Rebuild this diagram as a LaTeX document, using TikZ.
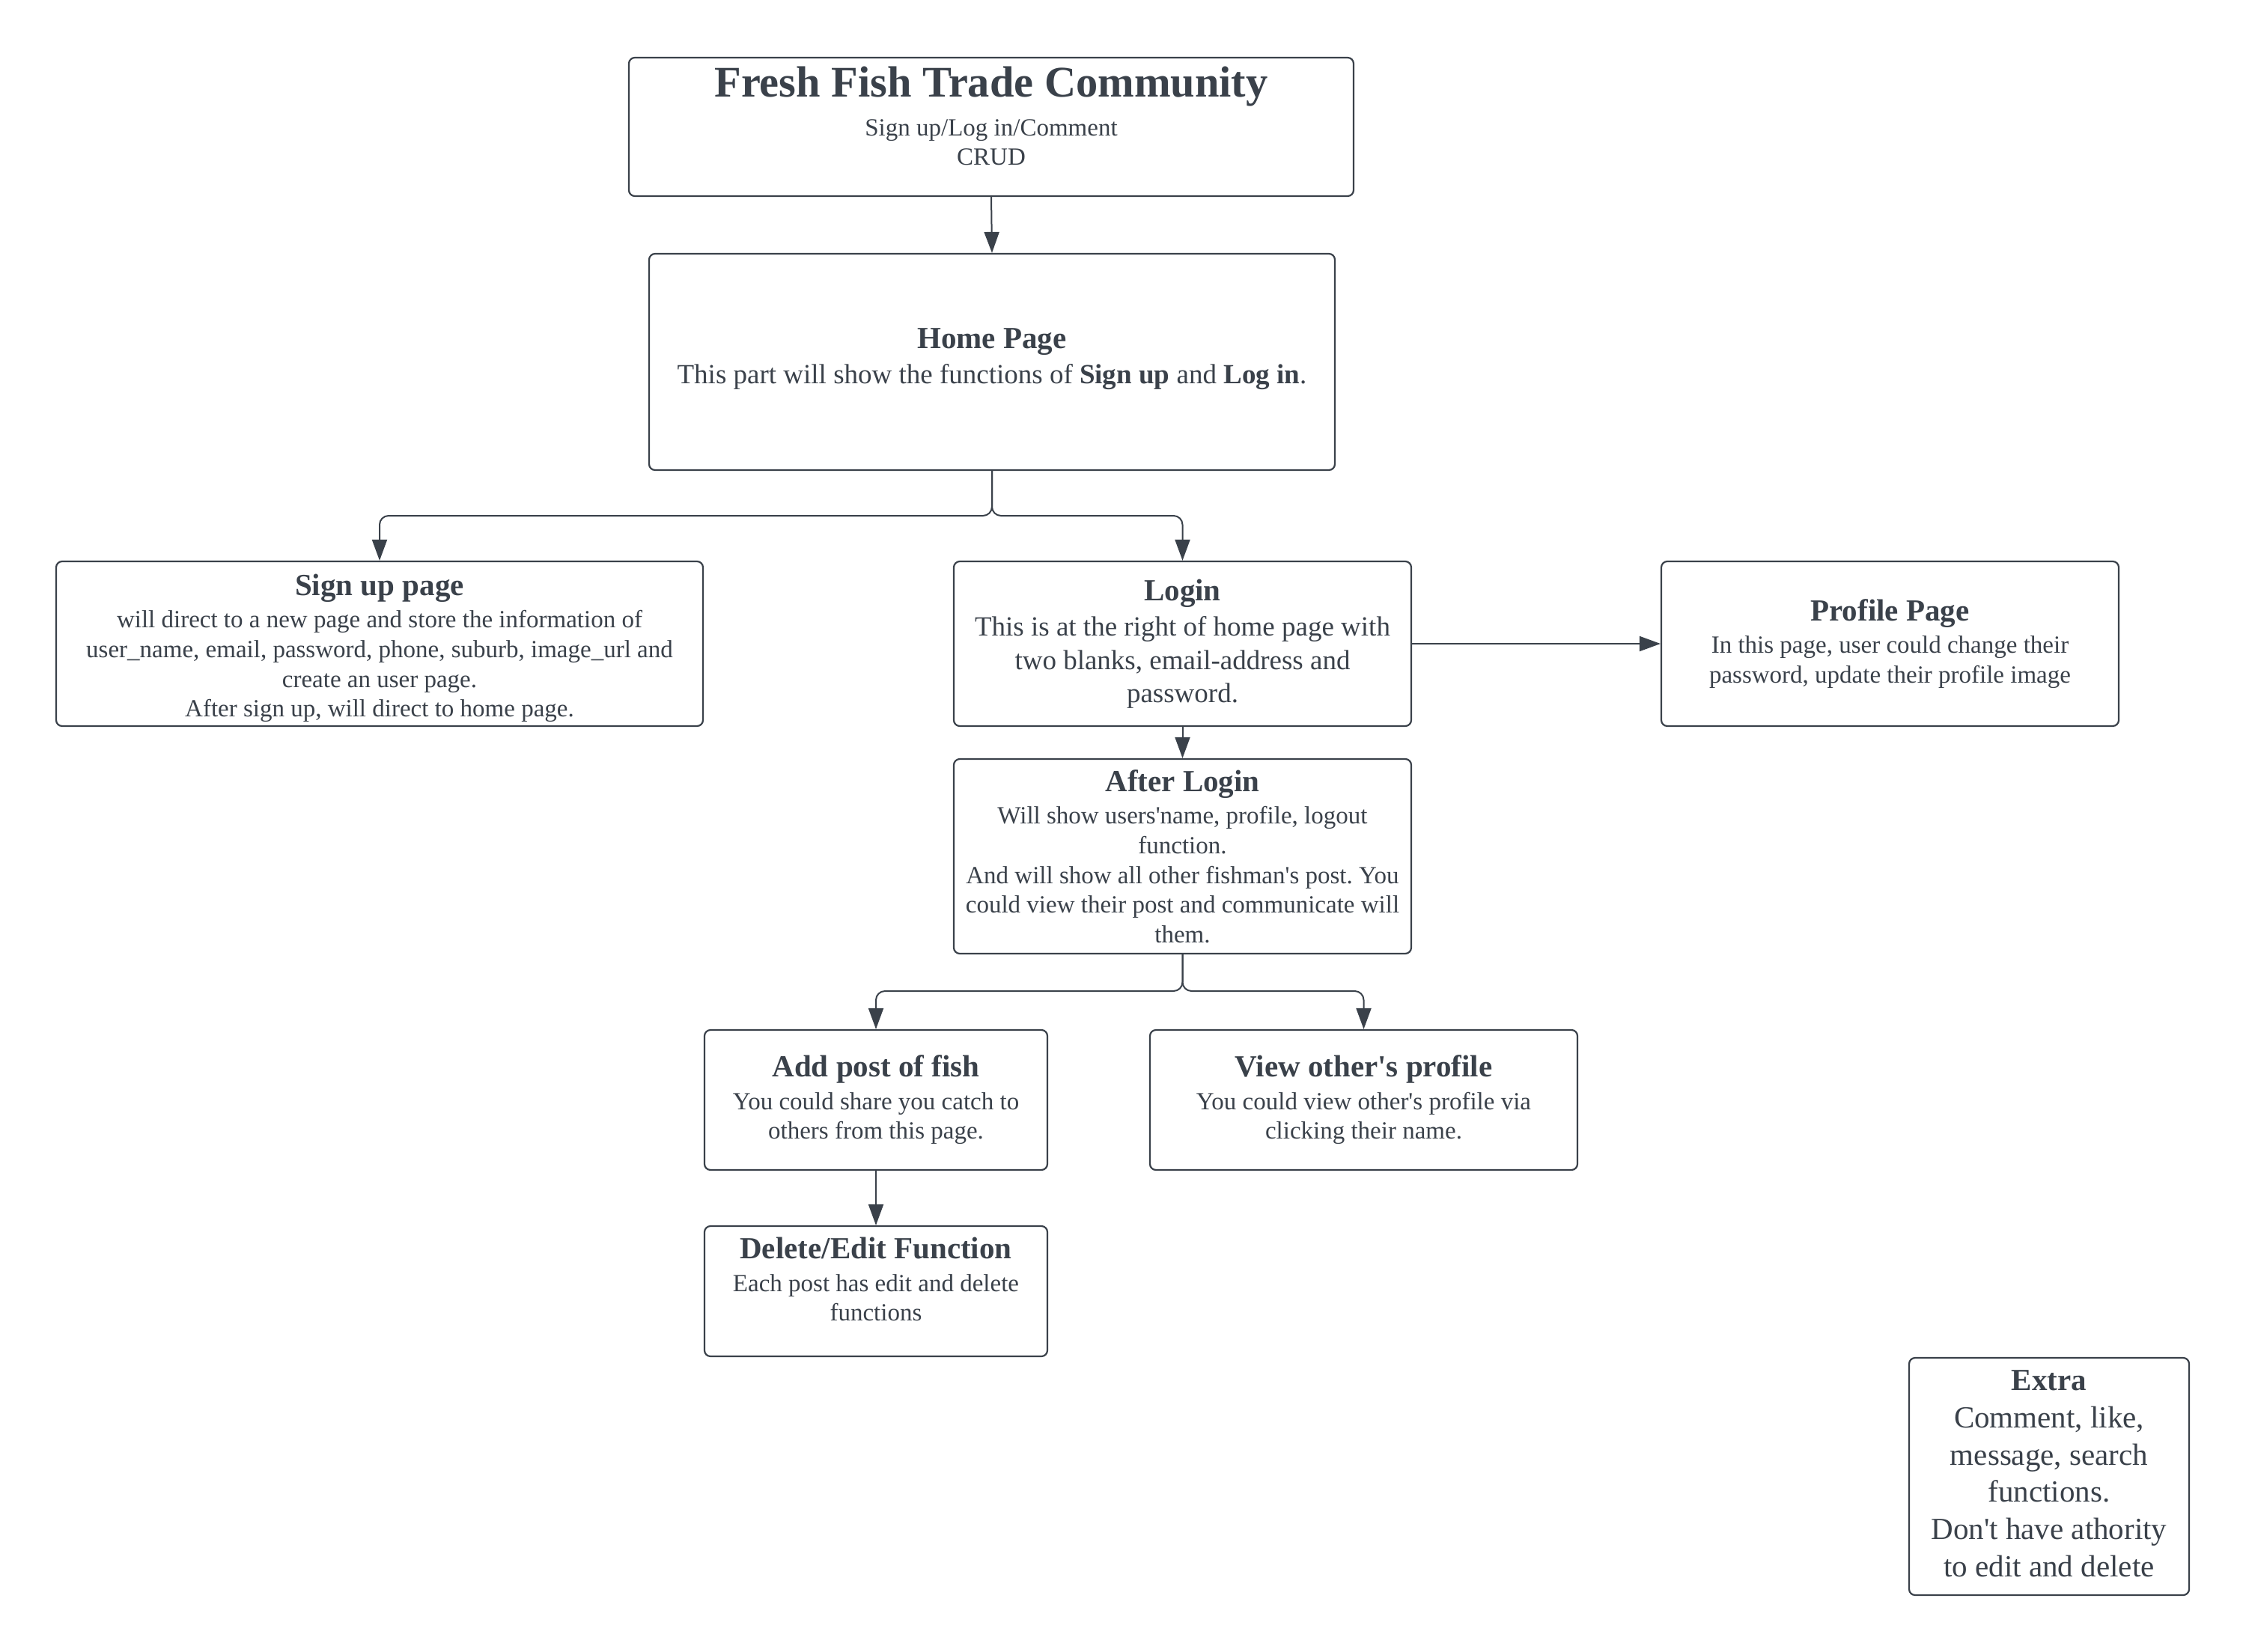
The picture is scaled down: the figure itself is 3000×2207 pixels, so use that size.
\documentclass[tikz,border=0pt]{standalone}
\usepackage{fontspec}
\setmainfont{Liberation Serif}[Ligatures=TeXOff]
\usetikzlibrary{arrows.meta}
\definecolor{ink}{RGB}{58,65,74}
\newcommand{\hfnt}{\fontsize{10.25}{12.3}\selectfont\bfseries}
\newcommand{\bfnt}{\fontsize{8.25}{9.9}\selectfont}
\newcommand{\mfnt}{\fontsize{9.25}{11.1}\selectfont}
\newcommand{\xfnt}{\fontsize{10.25}{12.45}\selectfont}
\tikzset{
  box/.style={draw=ink, line width=0.55pt, rounded corners=2pt, inner sep=0pt,
    align=center, text=ink, font=\bfnt},
  txt/.style={inner sep=0pt, align=center, text=ink},
  conn/.style={draw=ink, line width=0.5pt, rounded corners=3pt,
    -{Triangle[length=7pt,width=5pt]}},
}
\begin{document}
\frenchspacing
\begin{tikzpicture}[x=0.25pt, y=-0.25pt]
\useasboundingbox[fill=white] (0,0) rectangle (3000,2207);

\node[box, minimum width=242pt, minimum height=46.25pt] (title) at (1324,169.5) {};
\node[txt, anchor=north, font=\bfnt] (ttext) at (1324,88)
  {{\fontsize{14.6}{17.5}\selectfont\bfseries Fresh Fish Trade Community}\\[3.1pt]
   Sign up/Log in/Comment\\ CRUD};

\node[box, font=\mfnt, minimum width=229pt, minimum height=72.25pt] (home) at (1325,483.5)
  {{\hfnt Home Page}\\[0.8pt]
   This part will show the functions of \textbf{Sign up} and \textbf{Log in}.\rule[-4pt]{0pt}{0pt}};

\node[box, minimum width=216pt, minimum height=55pt] (signup) at (507,860)
  {{\hfnt\rule{0pt}{10pt}Sign up page}\\[1pt]
   will direct to a new page and store the information of\\
   user\_name, email, password, phone, suburb, image\_url and\\
   create an user page.\\
   After sign up, will direct to home page.};

\node[box, font=\mfnt, minimum width=152.75pt, minimum height=55pt] (login) at (1579.5,860)
  {{\hfnt Login}\\[0.8pt]
   This is at the right of home page with\\
   two blanks, email-address and\\
   password.};

\node[box, minimum width=152.75pt, minimum height=55pt] (profile) at (2524.5,860)
  {{\hfnt Profile Page}\\[1pt]
   In this page, user could change their\\
   password, update their profile image};

\node[box, minimum width=152.75pt, minimum height=65pt] (after) at (1579.5,1144)
  {{\hfnt After Login}\\[1pt]
   Will show users'name, profile, logout\\
   function.\\
   And will show all other fishman's post. You\\
   could view their post and communicate will\\
   them.};

\node[box, minimum width=114.5pt, minimum height=46.75pt] (addpost) at (1170,1469.5)
  {{\hfnt Add post of fish}\\[1pt]
   You could share you catch to\\
   others from this page.};

\node[box, minimum width=142.75pt, minimum height=46.75pt] (view) at (1821.5,1469.5)
  {{\hfnt View other's profile}\\[1pt]
   You could view other's profile via\\
   clicking their name.};

\node[box, minimum width=114.5pt, minimum height=43.5pt] (delete) at (1170,1725)
  {{\hfnt Delete/Edit Function}\\[1pt]
   Each post has edit and delete\\
   functions\\[-1.9pt]\mbox{}};

\node[box, font=\xfnt, minimum width=93.5pt, minimum height=79.25pt] (extra) at (2737,1972.5)
  {{\hfnt Extra}\\
   Comment, like,\\
   message, search\\
   functions.\\
   Don't have athority\\
   to edit and delete\rule[-2pt]{0pt}{0pt}};

\coordinate (split1) at (1325,689);
\coordinate (split2) at (1579.5,1324);

\draw[conn] (title.south) -- (home.north);
\draw[conn] (home.south) -- (split1) -| (signup.north);
\draw[conn] (home.south) -- (split1) -| (login.north);
\draw[conn] (login.east) -- (profile.west);
\draw[conn] (login.south) -- (after.north);
\draw[conn] (after.south) -- (split2) -| (addpost.north);
\draw[conn] (after.south) -- (split2) -| (view.north);
\draw[conn] (addpost.south) -- (delete.north);
\end{tikzpicture}
\end{document}
